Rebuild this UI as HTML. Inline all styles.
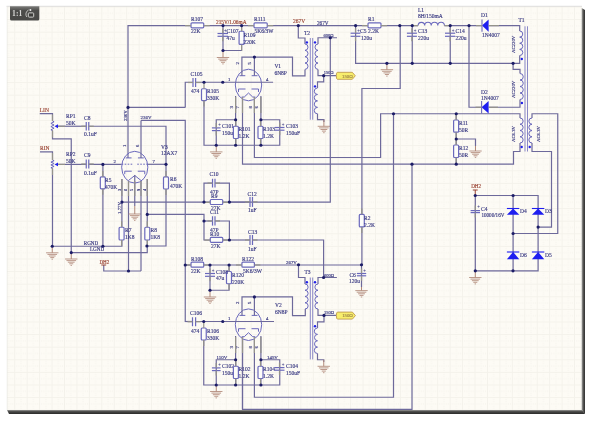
<!DOCTYPE html>
<html><head><meta charset="utf-8">
<style>
html,body{margin:0;padding:0;background:#fff;width:600px;height:426px;overflow:hidden}
svg{position:absolute;left:0;top:0;will-change:transform}
text{font-family:"Liberation Serif",serif;stroke-width:0.15}
</style></head><body>
<svg width="600" height="426" viewBox="0 0 600 426">
<defs>
<pattern id="g" x="1.82" y="6.5" width="12.44" height="12.6" patternUnits="userSpaceOnUse">
<path d="M0,0.5 H12.44 M0.5,0 V12.6" stroke="#f4f2eb" stroke-width="1" fill="none"/>
<path d="M0,6.8 H12.44 M6.72,0 V12.6" stroke="#f3f1ea" stroke-width="1" stroke-dasharray="1,1.1" fill="none"/>
</pattern>
<linearGradient id="sr" x1="0" x2="1" y1="0" y2="0"><stop offset="0" stop-color="#b0b0ae"/><stop offset="0.45" stop-color="#5a5a58"/><stop offset="1" stop-color="#2e2e2e"/></linearGradient>
<linearGradient id="sb" x1="0" x2="0" y1="0" y2="1"><stop offset="0" stop-color="#9a9a98"/><stop offset="0.4" stop-color="#4a4a48"/><stop offset="1" stop-color="#2a2a2a"/></linearGradient>
<linearGradient id="bd" x1="0" x2="0" y1="0" y2="1"><stop offset="0" stop-color="#7a7a78"/><stop offset="0.22" stop-color="#5a5a58"/><stop offset="0.3" stop-color="#4c4c4a"/><stop offset="1" stop-color="#484846"/></linearGradient>
</defs>
<rect x="7" y="6" width="575" height="404" fill="#fdfbf5"/>
<rect x="7" y="6" width="575" height="404" fill="url(#g)"/>
<line x1="6.5" y1="6.3" x2="582" y2="6.3" stroke="#d8d8d8" stroke-width="0.8"/>
<line x1="7.2" y1="6" x2="7.2" y2="410" stroke="#e4e4e0" stroke-width="0.6"/>
<path d="M581.6,8 L585,10 L585,414 L581.6,410 Z" fill="url(#sr)"/>
<path d="M7,410 L582,410 L585,414 L9,414 Z" fill="url(#sb)"/>
<polyline points="128,157.9 128,25.6 191,25.6" fill="none" stroke="#6d699b" stroke-width="1.2"/>
<rect x="191" y="22.8" width="12.75" height="5" rx="1" fill="#fdfdfa" stroke="#6a68bc" stroke-width="1.2"/>
<polyline points="203.75,25.6 254,25.6" fill="none" stroke="#6d699b" stroke-width="1.2"/>
<rect x="254" y="22.8" width="13.25" height="5" rx="1" fill="#fdfdfa" stroke="#6a68bc" stroke-width="1.2"/>
<polyline points="267.25,25.6 368,25.6" fill="none" stroke="#6d699b" stroke-width="1.2"/>
<rect x="368" y="22.8" width="13" height="5" rx="1" fill="#fdfdfa" stroke="#6a68bc" stroke-width="1.2"/>
<polyline points="381,25.6 418.1,25.6" fill="none" stroke="#6d699b" stroke-width="1.2"/>
<path d="M418.1,25.6 A3.28,3.28 0 0 1 424.66,25.6 A3.28,3.28 0 0 1 431.22,25.6 A3.28,3.28 0 0 1 437.78,25.6 A3.28,3.28 0 0 1 444.4,25.6" fill="none" stroke="#6a68bc" stroke-width="1.1"/>
<polyline points="444.4,25.6 482,25.6" fill="none" stroke="#6d699b" stroke-width="1.2"/>
<polygon points="482,25.6 488.6,19.4 488.6,31.8" fill="#1e1ef0"/>
<line x1="482" y1="19.4" x2="482" y2="31.8" stroke="#6a68bc" stroke-width="1.1"/>
<polyline points="488.6,25.6 519.7,25.6 519.7,31" fill="none" stroke="#6d699b" stroke-width="1.2"/>
<text x="191" y="20.6" font-size="5.51" fill="#393982" stroke="#393982" text-anchor="start">R107</text>
<text x="191" y="33" font-size="5.51" fill="#393982" stroke="#393982" text-anchor="start">22K</text>
<text x="216" y="23.6" font-size="5.3" fill="#9a4434" stroke="#9a4434" text-anchor="start">215V/1.06mA</text>
<text x="254" y="20.6" font-size="5.51" fill="#393982" stroke="#393982" text-anchor="start">R111</text>
<text x="254.5" y="33" font-size="5.51" fill="#393982" stroke="#393982" text-anchor="start">5K6/3W</text>
<text x="293" y="23.4" font-size="5.51" fill="#9a4434" stroke="#9a4434" text-anchor="start">267V</text>
<text x="317" y="24.5" font-size="5.19" fill="#393982" stroke="#393982" text-anchor="start">267V</text>
<text x="368" y="21" font-size="5.51" fill="#393982" stroke="#393982" text-anchor="start">R1</text>
<text x="368" y="33" font-size="5.51" fill="#393982" stroke="#393982" text-anchor="start">2.2K</text>
<text x="418" y="12" font-size="5.51" fill="#393982" stroke="#393982" text-anchor="start">L1</text>
<text x="418" y="17.6" font-size="5.51" fill="#393982" stroke="#393982" text-anchor="start">8H/150mA</text>
<text x="481" y="17" font-size="5.51" fill="#393982" stroke="#393982" text-anchor="start">D1</text>
<text x="482" y="37" font-size="5.51" fill="#393982" stroke="#393982" text-anchor="start">1N4007</text>
<text x="518.5" y="22" font-size="5.51" fill="#393982" stroke="#393982" text-anchor="start">T1</text>
<polyline points="223,25.6 223,50.5" fill="none" stroke="#6d699b" stroke-width="1.2"/>
<line x1="217.5" y1="33.5" x2="228" y2="33.5" stroke="#6a68bc" stroke-width="1.2"/>
<line x1="217.5" y1="36.3" x2="228" y2="36.3" stroke="#6a68bc" stroke-width="1.2"/>
<text x="225.3" y="31.5" font-size="4.77" fill="#393982" stroke="#393982" text-anchor="middle">+</text>
<text x="226.5" y="33" font-size="5.51" fill="#393982" stroke="#393982" text-anchor="start">C107</text>
<text x="226.5" y="40" font-size="5.51" fill="#393982" stroke="#393982" text-anchor="start">47u</text>
<polyline points="241.6,25.6 241.6,50.5 223,50.5" fill="none" stroke="#6d699b" stroke-width="1.2"/>
<rect x="239.1" y="31.25" width="5" height="13.15" rx="1" fill="#fdfdfa" stroke="#6a68bc" stroke-width="1.2"/>
<text x="243.5" y="37" font-size="5.51" fill="#393982" stroke="#393982" text-anchor="start">R109</text>
<text x="243.5" y="44" font-size="5.51" fill="#393982" stroke="#393982" text-anchor="start">220K</text>
<polyline points="223,50.5 223,57.5" fill="none" stroke="#b08878" stroke-width="1"/>
<line x1="216.8" y1="57.5" x2="229.2" y2="57.5" stroke="#b08878" stroke-width="0.85"/>
<line x1="218.2" y1="59.1" x2="227.8" y2="59.1" stroke="#b08878" stroke-width="0.85"/>
<line x1="219.6" y1="60.7" x2="226.4" y2="60.7" stroke="#b08878" stroke-width="0.85"/>
<line x1="221" y1="62.3" x2="225" y2="62.3" stroke="#b08878" stroke-width="0.85"/>
<line x1="222.3" y1="63.9" x2="223.7" y2="63.9" stroke="#b08878" stroke-width="0.85"/>
<ellipse cx="248.5" cy="85" rx="13.2" ry="15.8" fill="none" stroke="#6a68bc" stroke-width="1"/>
<line x1="245.3" y1="75.7" x2="239.5" y2="75.7" stroke="#6a68bc" stroke-width="1"/>
<line x1="251.7" y1="75.7" x2="257.5" y2="75.7" stroke="#6a68bc" stroke-width="1"/>
<polyline points="238.5,92 238.5,89 245.5,89" fill="none" stroke="#6a68bc" stroke-width="1"/>
<polyline points="258.5,92 258.5,89 251.5,89" fill="none" stroke="#6a68bc" stroke-width="1"/>
<polyline points="241.7,97 244.3,97 248.5,93 252.7,97 255.3,97" fill="none" stroke="#6a68bc" stroke-width="1"/>
<polyline points="241.9,75.7 241.9,57.1 292.5,57.1 292.5,75.9 305,75.9 305,69.4" fill="none" stroke="#6d699b" stroke-width="1.2"/>
<polyline points="254.4,57.1 254.4,75.7" fill="none" stroke="#6d699b" stroke-width="1.2"/>
<text x="238.5" y="64.5" font-size="4.77" fill="#393982" stroke="#393982" text-anchor="start" transform="rotate(-90 238.5 64.5)">2</text>
<text x="251" y="64.5" font-size="4.77" fill="#393982" stroke="#393982" text-anchor="start" transform="rotate(-90 251 64.5)">5</text>
<text x="274.4" y="68" font-size="5.51" fill="#393982" stroke="#393982" text-anchor="start">V1</text>
<text x="274.4" y="75" font-size="5.51" fill="#393982" stroke="#393982" text-anchor="start">6N8P</text>
<polyline points="185.25,107.5 185.25,82.25 193,82.25" fill="none" stroke="#6d699b" stroke-width="1.2"/>
<line x1="193" y1="78" x2="193" y2="87" stroke="#6a68bc" stroke-width="1.2"/>
<line x1="195.6" y1="78" x2="195.6" y2="87" stroke="#6a68bc" stroke-width="1.2"/>
<polyline points="195.6,82.25 273.1,82.25" fill="none" stroke="#6d699b" stroke-width="1.2"/>
<text x="190.6" y="75.6" font-size="5.51" fill="#393982" stroke="#393982" text-anchor="start">C105</text>
<text x="191" y="93" font-size="5.51" fill="#393982" stroke="#393982" text-anchor="start">474</text>
<text x="228" y="81" font-size="4.77" fill="#393982" stroke="#393982" text-anchor="start">1</text>
<text x="266" y="80.6" font-size="4.77" fill="#393982" stroke="#393982" text-anchor="start">4</text>
<rect x="201.5" y="88.75" width="5" height="11.85" rx="1" fill="#fdfdfa" stroke="#6a68bc" stroke-width="1.2"/>
<text x="207" y="93" font-size="5.51" fill="#393982" stroke="#393982" text-anchor="start">R105</text>
<text x="207" y="100" font-size="5.51" fill="#393982" stroke="#393982" text-anchor="start">330K</text>
<polyline points="204,100.6 204,145.25 279.75,145.25 279.75,119.75 260.9,119.75" fill="none" stroke="#6d699b" stroke-width="1.2"/>
<polyline points="235.6,96 235.6,145.25" fill="none" stroke="#6d699b" stroke-width="1.2"/>
<polyline points="260.9,96 260.9,145.25" fill="none" stroke="#6d699b" stroke-width="1.2"/>
<polyline points="242.5,97 242.5,164.2 513.5,164.2 513.5,151.5 520,151.5 520,147" fill="none" stroke="#6d699b" stroke-width="1.2"/>
<polyline points="254.4,97 254.4,157.5 380.6,157.5 380.6,113.75 520,113.75 520,118" fill="none" stroke="#6d699b" stroke-width="1.2"/>
<text x="233" y="108.5" font-size="4.77" fill="#393982" stroke="#393982" text-anchor="start" transform="rotate(-90 233 108.5)">3</text>
<text x="239" y="108.5" font-size="4.77" fill="#393982" stroke="#393982" text-anchor="start" transform="rotate(-90 239 108.5)">7</text>
<text x="252" y="108.5" font-size="4.77" fill="#393982" stroke="#393982" text-anchor="start" transform="rotate(-90 252 108.5)">8</text>
<text x="258" y="108.5" font-size="4.77" fill="#393982" stroke="#393982" text-anchor="start" transform="rotate(-90 258 108.5)">6</text>
<polyline points="235.6,119.75 216.25,119.75 216.25,145.25" fill="none" stroke="#6d699b" stroke-width="1.2"/>
<line x1="211.9" y1="127.9" x2="220.6" y2="127.9" stroke="#6a68bc" stroke-width="1.2"/>
<line x1="211.9" y1="130.6" x2="220.6" y2="130.6" stroke="#6a68bc" stroke-width="1.2"/>
<text x="219.5" y="126" font-size="4.77" fill="#393982" stroke="#393982" text-anchor="middle">+</text>
<text x="222" y="128" font-size="5.51" fill="#393982" stroke="#393982" text-anchor="start">C101</text>
<text x="222" y="134.5" font-size="5.51" fill="#393982" stroke="#393982" text-anchor="start">150uF</text>
<rect x="233.4" y="126.25" width="5" height="12.25" rx="1" fill="#fdfdfa" stroke="#6a68bc" stroke-width="1.2"/>
<text x="238.5" y="131" font-size="5.51" fill="#393982" stroke="#393982" text-anchor="start">R101</text>
<text x="238.5" y="137.5" font-size="5.51" fill="#393982" stroke="#393982" text-anchor="start">1.2K</text>
<rect x="258" y="126.25" width="5" height="12.25" rx="1" fill="#fdfdfa" stroke="#6a68bc" stroke-width="1.2"/>
<text x="263" y="131" font-size="5.51" fill="#393982" stroke="#393982" text-anchor="start">R103</text>
<text x="263" y="137.5" font-size="5.51" fill="#393982" stroke="#393982" text-anchor="start">1.2K</text>
<line x1="275" y1="127.5" x2="284.5" y2="127.5" stroke="#6a68bc" stroke-width="1.2"/>
<line x1="275" y1="130.2" x2="284.5" y2="130.2" stroke="#6a68bc" stroke-width="1.2"/>
<text x="283" y="125.5" font-size="4.77" fill="#393982" stroke="#393982" text-anchor="middle">+</text>
<text x="286" y="128" font-size="5.51" fill="#393982" stroke="#393982" text-anchor="start">C103</text>
<text x="286" y="134.5" font-size="5.51" fill="#393982" stroke="#393982" text-anchor="start">150uF</text>
<polyline points="216.25,145.25 216.25,151.9" fill="none" stroke="#b08878" stroke-width="1"/>
<line x1="210.05" y1="151.9" x2="222.45" y2="151.9" stroke="#b08878" stroke-width="0.85"/>
<line x1="211.45" y1="153.5" x2="221.05" y2="153.5" stroke="#b08878" stroke-width="0.85"/>
<line x1="212.85" y1="155.1" x2="219.65" y2="155.1" stroke="#b08878" stroke-width="0.85"/>
<line x1="214.25" y1="156.7" x2="218.25" y2="156.7" stroke="#b08878" stroke-width="0.85"/>
<line x1="215.55" y1="158.3" x2="216.95" y2="158.3" stroke="#b08878" stroke-width="0.85"/>
<polyline points="298.3,25.6 298.3,38 305,38 305,44" fill="none" stroke="#6d699b" stroke-width="1.2"/>
<path d="M305,44 A3.18,3.18 0 0 1 305,50.35 A3.18,3.18 0 0 1 305,56.7 A3.18,3.18 0 0 1 305,63.05 A3.18,3.18 0 0 1 305,69.4" fill="none" stroke="#6a68bc" stroke-width="1"/>
<line x1="310.3" y1="38" x2="310.3" y2="119.7" stroke="#8482c4" stroke-width="0.95"/>
<line x1="312.7" y1="38" x2="312.7" y2="119.7" stroke="#8482c4" stroke-width="0.95"/>
<polyline points="337,37.75 318,37.75 318,44" fill="none" stroke="#6d699b" stroke-width="1.2"/>
<path d="M318,44 A3.18,3.18 0 0 0 318,50.35 A3.18,3.18 0 0 0 318,56.7 A3.18,3.18 0 0 0 318,63.05 A3.18,3.18 0 0 0 318,69.4" fill="none" stroke="#6a68bc" stroke-width="1"/>
<polyline points="318,69.4 318,75.7 336.3,75.7" fill="none" stroke="#6d699b" stroke-width="1.2"/>
<polyline points="323.7,75.7 323.7,81.9 317.5,81.9 317.5,88" fill="none" stroke="#6d699b" stroke-width="1.2"/>
<path d="M317.5,88 A3.22,3.22 0 0 0 317.5,94.45 A3.22,3.22 0 0 0 317.5,100.9 A3.22,3.22 0 0 0 317.5,107.35 A3.22,3.22 0 0 0 317.5,113.8" fill="none" stroke="#6a68bc" stroke-width="1"/>
<polyline points="317.5,113.8 317.5,119.7 323.9,119.7 323.9,122" fill="none" stroke="#6d699b" stroke-width="1.2"/>
<polyline points="323.9,119.7 323.9,126.3" fill="none" stroke="#b08878" stroke-width="1"/>
<line x1="317.7" y1="126.3" x2="330.1" y2="126.3" stroke="#b08878" stroke-width="0.85"/>
<line x1="319.1" y1="127.9" x2="328.7" y2="127.9" stroke="#b08878" stroke-width="0.85"/>
<line x1="320.5" y1="129.5" x2="327.3" y2="129.5" stroke="#b08878" stroke-width="0.85"/>
<line x1="321.9" y1="131.1" x2="325.9" y2="131.1" stroke="#b08878" stroke-width="0.85"/>
<line x1="323.2" y1="132.7" x2="324.6" y2="132.7" stroke="#b08878" stroke-width="0.85"/>
<circle cx="306.9" cy="42.4" r="1.2" fill="#2020e8"/>
<circle cx="315" cy="42.4" r="1.2" fill="#2020e8"/>
<circle cx="315" cy="86.4" r="1.2" fill="#2020e8"/>
<text x="304" y="35" font-size="5.51" fill="#393982" stroke="#393982" text-anchor="start">T2</text>
<text x="323.5" y="36.8" font-size="4.45" fill="#393982" stroke="#393982" text-anchor="start">600Ω</text>
<text x="323.7" y="74.3" font-size="4.45" fill="#393982" stroke="#393982" text-anchor="start">150Ω</text>
<path d="M337.3,72.3 L352.3,72.3 L355.3,75.8 L352.3,79.3 L337.3,79.3 Q336.3,79.3 336.3,75.8 Q336.3,72.3 337.3,72.3 Z" fill="#f8ee6c" stroke="#c09a50" stroke-width="0.9"/>
<text x="352.8" y="77.5" font-size="4.77" fill="#a08848" stroke="#a08848" text-anchor="end">150Ω</text>
<polyline points="330.3,37.75 330.3,202.1 121.9,202.1" fill="none" stroke="#6d699b" stroke-width="1.2"/>
<polyline points="355.6,25.6 355.6,63.3 513.1,63.3 519.7,63.3 519.7,58" fill="none" stroke="#6d699b" stroke-width="1.2"/>
<line x1="350.6" y1="33.2" x2="360.4" y2="33.2" stroke="#6a68bc" stroke-width="1.2"/>
<line x1="350.6" y1="36.3" x2="360.4" y2="36.3" stroke="#6a68bc" stroke-width="1.2"/>
<text x="358.6" y="31.5" font-size="4.77" fill="#393982" stroke="#393982" text-anchor="middle">+</text>
<text x="360" y="33" font-size="5.51" fill="#393982" stroke="#393982" text-anchor="start">C5</text>
<text x="361" y="40" font-size="5.51" fill="#393982" stroke="#393982" text-anchor="start">120u</text>
<polyline points="386.9,63.3 386.9,69.7" fill="none" stroke="#b08878" stroke-width="1"/>
<line x1="380.7" y1="69.7" x2="393.1" y2="69.7" stroke="#b08878" stroke-width="0.85"/>
<line x1="382.1" y1="71.3" x2="391.7" y2="71.3" stroke="#b08878" stroke-width="0.85"/>
<line x1="383.5" y1="72.9" x2="390.3" y2="72.9" stroke="#b08878" stroke-width="0.85"/>
<line x1="384.9" y1="74.5" x2="388.9" y2="74.5" stroke="#b08878" stroke-width="0.85"/>
<line x1="386.2" y1="76.1" x2="387.6" y2="76.1" stroke="#b08878" stroke-width="0.85"/>
<polyline points="412.25,25.6 412.25,63.3" fill="none" stroke="#6d699b" stroke-width="1.2"/>
<line x1="406.9" y1="33.2" x2="416.9" y2="33.2" stroke="#6a68bc" stroke-width="1.2"/>
<line x1="406.9" y1="36.3" x2="416.9" y2="36.3" stroke="#6a68bc" stroke-width="1.2"/>
<text x="415" y="31.5" font-size="4.77" fill="#393982" stroke="#393982" text-anchor="middle">+</text>
<text x="418" y="33" font-size="5.51" fill="#393982" stroke="#393982" text-anchor="start">C13</text>
<text x="418" y="40" font-size="5.51" fill="#393982" stroke="#393982" text-anchor="start">220u</text>
<polyline points="450.25,25.6 450.25,63.3" fill="none" stroke="#6d699b" stroke-width="1.2"/>
<line x1="445" y1="33.2" x2="455.2" y2="33.2" stroke="#6a68bc" stroke-width="1.2"/>
<line x1="445" y1="36.3" x2="455.2" y2="36.3" stroke="#6a68bc" stroke-width="1.2"/>
<text x="453" y="31.5" font-size="4.77" fill="#393982" stroke="#393982" text-anchor="middle">+</text>
<text x="455.5" y="33" font-size="5.51" fill="#393982" stroke="#393982" text-anchor="start">C14</text>
<text x="455.5" y="40" font-size="5.51" fill="#393982" stroke="#393982" text-anchor="start">220u</text>
<polyline points="400.2,25.6 400.2,88.5 361.9,88.5 361.9,264.75" fill="none" stroke="#6d699b" stroke-width="1.2"/>
<rect x="359.3" y="214.4" width="5" height="12.5" rx="1" fill="#fdfdfa" stroke="#6a68bc" stroke-width="1.2"/>
<text x="364" y="220" font-size="5.51" fill="#393982" stroke="#393982" text-anchor="start">R2</text>
<text x="364" y="226.5" font-size="5.51" fill="#393982" stroke="#393982" text-anchor="start">2.2K</text>
<path d="M519.7,31 A3.06,3.06 0 0 1 519.7,37.12 A3.06,3.06 0 0 1 519.7,43.25 A3.06,3.06 0 0 1 519.7,49.38 A3.06,3.06 0 0 1 519.7,55.5" fill="none" stroke="#6a68bc" stroke-width="1"/>
<polyline points="519.7,55.5 519.7,58" fill="none" stroke="#6d699b" stroke-width="1.2"/>
<circle cx="521.8" cy="59" r="1.2" fill="#2020e8"/>
<line x1="525" y1="26.3" x2="525" y2="151.5" stroke="#8482c4" stroke-width="0.95"/>
<line x1="527.5" y1="26.3" x2="527.5" y2="151.5" stroke="#8482c4" stroke-width="0.95"/>
<polyline points="513.1,63.3 513.1,69.4 520,69.4 520,73.5" fill="none" stroke="#6d699b" stroke-width="1.2"/>
<path d="M520,73.5 A3.25,3.25 0 0 1 520,80 A3.25,3.25 0 0 1 520,86.5 A3.25,3.25 0 0 1 520,93 A3.25,3.25 0 0 1 520,99.5" fill="none" stroke="#6a68bc" stroke-width="1"/>
<polyline points="520,99.5 520,107.25 488.6,107.25" fill="none" stroke="#6d699b" stroke-width="1.2"/>
<circle cx="521.9" cy="103" r="1.2" fill="#2020e8"/>
<polyline points="469,25.6 469,107.25 481.6,107.25" fill="none" stroke="#6d699b" stroke-width="1.2"/>
<polygon points="481.6,107.25 488.6,101.05 488.6,113.45" fill="#1e1ef0"/>
<line x1="481.6" y1="101.05" x2="481.6" y2="113.45" stroke="#6a68bc" stroke-width="1.1"/>
<text x="481" y="93.5" font-size="5.51" fill="#393982" stroke="#393982" text-anchor="start">D2</text>
<text x="481" y="99.5" font-size="5.51" fill="#393982" stroke="#393982" text-anchor="start">1N4007</text>
<text x="515" y="53" font-size="4.77" fill="#393982" stroke="#393982" text-anchor="start" transform="rotate(-90 515 53)">AC220V</text>
<text x="515" y="98" font-size="4.77" fill="#393982" stroke="#393982" text-anchor="start" transform="rotate(-90 515 98)">AC220V</text>
<path d="M520,118 A3.12,3.12 0 0 1 520,124.25 A3.12,3.12 0 0 1 520,130.5 A3.12,3.12 0 0 1 520,136.75 A3.12,3.12 0 0 1 520,143" fill="none" stroke="#6a68bc" stroke-width="1"/>
<polyline points="520,143 520,147" fill="none" stroke="#6d699b" stroke-width="1.2"/>
<path d="M532,118 A3.12,3.12 0 0 0 532,124.25 A3.12,3.12 0 0 0 532,130.5 A3.12,3.12 0 0 0 532,136.75 A3.12,3.12 0 0 0 532,143" fill="none" stroke="#6a68bc" stroke-width="1"/>
<polyline points="532,118 532,113.75 557.75,113.75 557.75,233.5 513.1,233.5" fill="none" stroke="#6d699b" stroke-width="1.2"/>
<polyline points="532,143 532,151.5 551.5,151.5 551.5,227.1 538.1,227.1" fill="none" stroke="#6d699b" stroke-width="1.2"/>
<circle cx="521.7" cy="147" r="1.2" fill="#2020e8"/>
<circle cx="529.7" cy="147" r="1.2" fill="#2020e8"/>
<text x="515" y="142" font-size="4.77" fill="#393982" stroke="#393982" text-anchor="start" transform="rotate(-90 515 142)">AC6.3V</text>
<text x="540" y="142" font-size="4.77" fill="#393982" stroke="#393982" text-anchor="start" transform="rotate(-90 540 142)">AC6.3V</text>
<polyline points="456.25,113.75 456.25,164.2" fill="none" stroke="#6d699b" stroke-width="1.2"/>
<rect x="453.6" y="120" width="5" height="12.2" rx="1" fill="#fdfdfa" stroke="#6a68bc" stroke-width="1.2"/>
<rect x="453.6" y="145" width="5" height="12.5" rx="1" fill="#fdfdfa" stroke="#6a68bc" stroke-width="1.2"/>
<polyline points="456.25,139 475.5,139 475.5,146" fill="none" stroke="#6d699b" stroke-width="1.2"/>
<polyline points="475.5,146 475.5,151" fill="none" stroke="#b08878" stroke-width="1"/>
<line x1="469.3" y1="151" x2="481.7" y2="151" stroke="#b08878" stroke-width="0.85"/>
<line x1="470.7" y1="152.6" x2="480.3" y2="152.6" stroke="#b08878" stroke-width="0.85"/>
<line x1="472.1" y1="154.2" x2="478.9" y2="154.2" stroke="#b08878" stroke-width="0.85"/>
<line x1="473.5" y1="155.8" x2="477.5" y2="155.8" stroke="#b08878" stroke-width="0.85"/>
<line x1="474.8" y1="157.4" x2="476.2" y2="157.4" stroke="#b08878" stroke-width="0.85"/>
<text x="459" y="125" font-size="5.51" fill="#393982" stroke="#393982" text-anchor="start">R11</text>
<text x="459" y="131.5" font-size="5.51" fill="#393982" stroke="#393982" text-anchor="start">50R</text>
<text x="459" y="150" font-size="5.51" fill="#393982" stroke="#393982" text-anchor="start">R12</text>
<text x="459" y="156.5" font-size="5.51" fill="#393982" stroke="#393982" text-anchor="start">50R</text>
<polyline points="393.5,113.75 393.5,397.25 254.4,397.25 254.4,337" fill="none" stroke="#6d699b" stroke-width="1.2"/>
<polyline points="412,164.2 412,409.3 242.5,409.3 242.5,337" fill="none" stroke="#6d699b" stroke-width="1.2"/>
<text x="39.75" y="112.3" font-size="5.51" fill="#9a4434" stroke="#9a4434" text-anchor="start">LIN</text>
<polyline points="39.75,113.6 52.5,113.6 52.5,121" fill="none" stroke="#6d699b" stroke-width="1.2"/>
<polyline points="52.5,121 54.1,121.8 50.9,123.4 54.1,125 50.9,126.6 54.1,128.2 50.9,129.8 52.5,130.6" fill="none" stroke="#6a68bc" stroke-width="1"/>
<polyline points="52.5,130.6 52.5,138.8 71.25,138.8 71.25,252.6" fill="none" stroke="#6d699b" stroke-width="1.2"/>
<polygon points="54.5,126.25 58,124.3 58,128.2" fill="#1e1ef0"/>
<polyline points="58,126.25 86.25,126.25" fill="none" stroke="#6d699b" stroke-width="1.2"/>
<line x1="86.25" y1="121.9" x2="86.25" y2="130.6" stroke="#6a68bc" stroke-width="1.2"/>
<line x1="88.75" y1="121.9" x2="88.75" y2="130.6" stroke="#6a68bc" stroke-width="1.2"/>
<polyline points="88.75,126.25 166,126.25 166,176.9" fill="none" stroke="#6d699b" stroke-width="1.2"/>
<text x="66" y="118" font-size="5.51" fill="#393982" stroke="#393982" text-anchor="start">RP1</text>
<text x="66" y="125" font-size="5.51" fill="#393982" stroke="#393982" text-anchor="start">50K</text>
<text x="84" y="119.5" font-size="5.51" fill="#393982" stroke="#393982" text-anchor="start">C8</text>
<text x="84" y="136" font-size="5.51" fill="#393982" stroke="#393982" text-anchor="start">0.1uF</text>
<text x="40" y="150.3" font-size="5.51" fill="#9a4434" stroke="#9a4434" text-anchor="start">RIN</text>
<polyline points="40,151.9 52.5,151.9 52.5,160" fill="none" stroke="#6d699b" stroke-width="1.2"/>
<polyline points="52.5,160 54.1,160.71 50.9,162.12 54.1,163.54 50.9,164.96 54.1,166.38 50.9,167.79 52.5,168.5" fill="none" stroke="#6a68bc" stroke-width="1"/>
<polyline points="52.5,168.5 52.5,246.25 121.9,246.25 121.9,240" fill="none" stroke="#6d699b" stroke-width="1.2"/>
<polygon points="54.5,164.4 58,162.5 58,166.3" fill="#1e1ef0"/>
<polyline points="58,164.4 86.25,164.4" fill="none" stroke="#6d699b" stroke-width="1.2"/>
<line x1="86.25" y1="159.5" x2="86.25" y2="168.5" stroke="#6a68bc" stroke-width="1.2"/>
<line x1="88.75" y1="159.5" x2="88.75" y2="168.5" stroke="#6a68bc" stroke-width="1.2"/>
<polyline points="88.75,164.4 121.6,164.4" fill="none" stroke="#6d699b" stroke-width="1.2"/>
<text x="66" y="156" font-size="5.51" fill="#393982" stroke="#393982" text-anchor="start">RP2</text>
<text x="66" y="162.5" font-size="5.51" fill="#393982" stroke="#393982" text-anchor="start">50K</text>
<text x="84" y="157" font-size="5.51" fill="#393982" stroke="#393982" text-anchor="start">C9</text>
<text x="84" y="174.5" font-size="5.51" fill="#393982" stroke="#393982" text-anchor="start">0.1uF</text>
<polyline points="102.9,164.4 102.9,246.25" fill="none" stroke="#6d699b" stroke-width="1.2"/>
<rect x="100.3" y="176.9" width="5" height="11.9" rx="1" fill="#fdfdfa" stroke="#6a68bc" stroke-width="1.2"/>
<text x="105" y="182" font-size="5.51" fill="#393982" stroke="#393982" text-anchor="start">R5</text>
<text x="105" y="189" font-size="5.51" fill="#393982" stroke="#393982" text-anchor="start">470K</text>
<polyline points="52.25,246.25 52.25,252.8" fill="none" stroke="#b08878" stroke-width="1"/>
<line x1="46.05" y1="252.8" x2="58.45" y2="252.8" stroke="#b08878" stroke-width="0.85"/>
<line x1="47.45" y1="254.4" x2="57.05" y2="254.4" stroke="#b08878" stroke-width="0.85"/>
<line x1="48.85" y1="256" x2="55.65" y2="256" stroke="#b08878" stroke-width="0.85"/>
<line x1="50.25" y1="257.6" x2="54.25" y2="257.6" stroke="#b08878" stroke-width="0.85"/>
<line x1="51.55" y1="259.2" x2="52.95" y2="259.2" stroke="#b08878" stroke-width="0.85"/>
<polyline points="71.25,252.6 71.25,259" fill="none" stroke="#b08878" stroke-width="1"/>
<line x1="65.05" y1="259" x2="77.45" y2="259" stroke="#b08878" stroke-width="0.85"/>
<line x1="66.45" y1="260.6" x2="76.05" y2="260.6" stroke="#b08878" stroke-width="0.85"/>
<line x1="67.85" y1="262.2" x2="74.65" y2="262.2" stroke="#b08878" stroke-width="0.85"/>
<line x1="69.25" y1="263.8" x2="73.25" y2="263.8" stroke="#b08878" stroke-width="0.85"/>
<line x1="70.55" y1="265.4" x2="71.95" y2="265.4" stroke="#b08878" stroke-width="0.85"/>
<text x="83.75" y="244.8" font-size="5.09" fill="#393982" stroke="#393982" text-anchor="start">RGND</text>
<text x="90" y="251" font-size="5.09" fill="#393982" stroke="#393982" text-anchor="start">LGND</text>
<ellipse cx="134.75" cy="167.2" rx="13.1" ry="15.9" fill="none" stroke="#6a68bc" stroke-width="1"/>
<line x1="131.55" y1="157.9" x2="125.75" y2="157.9" stroke="#6a68bc" stroke-width="1"/>
<line x1="137.95" y1="157.9" x2="143.75" y2="157.9" stroke="#6a68bc" stroke-width="1"/>
<polyline points="124.75,174.2 124.75,171.2 131.75,171.2" fill="none" stroke="#6a68bc" stroke-width="1"/>
<polyline points="144.75,174.2 144.75,171.2 137.75,171.2" fill="none" stroke="#6a68bc" stroke-width="1"/>
<polyline points="128.45,180.5 134.75,175.5 141.05,180.5" fill="none" stroke="#6a68bc" stroke-width="1"/>
<line x1="121.65" y1="164.2" x2="132.25" y2="164.2" stroke="#6a68bc" stroke-width="1" stroke-dasharray="1.6,1.4"/>
<line x1="137.25" y1="164.2" x2="147.85" y2="164.2" stroke="#6a68bc" stroke-width="1" stroke-dasharray="1.6,1.4"/>
<polyline points="141,120.4 185.25,120.4 185.25,321.5 192.5,321.5" fill="none" stroke="#6d699b" stroke-width="1.2"/>
<polyline points="141,120.4 141,157.9" fill="none" stroke="#6d699b" stroke-width="1.2"/>
<text x="126" y="147" font-size="4.77" fill="#393982" stroke="#393982" text-anchor="start" transform="rotate(-90 126 147)">1</text>
<text x="139" y="147" font-size="4.77" fill="#393982" stroke="#393982" text-anchor="start" transform="rotate(-90 139 147)">6</text>
<text x="161" y="148.8" font-size="5.51" fill="#393982" stroke="#393982" text-anchor="start">V3</text>
<text x="161" y="155" font-size="5.51" fill="#393982" stroke="#393982" text-anchor="start">12AX7</text>
<text x="113.5" y="163" font-size="4.77" fill="#393982" stroke="#393982" text-anchor="start">2</text>
<text x="152.5" y="163" font-size="4.77" fill="#393982" stroke="#393982" text-anchor="start">7</text>
<polyline points="147.9,164.3 166,164.3" fill="none" stroke="#6d699b" stroke-width="1.2"/>
<rect x="163.5" y="176.9" width="5" height="12.1" rx="1" fill="#fdfdfa" stroke="#6a68bc" stroke-width="1.2"/>
<text x="170" y="181" font-size="5.51" fill="#393982" stroke="#393982" text-anchor="start">R6</text>
<text x="170" y="188" font-size="5.51" fill="#393982" stroke="#393982" text-anchor="start">470K</text>
<polyline points="166,189 166,246 146.9,246" fill="none" stroke="#6d699b" stroke-width="1.2"/>
<text x="126.5" y="121" font-size="4.88" fill="#393982" stroke="#393982" text-anchor="start" transform="rotate(-90 126.5 121)">236V</text>
<text x="140.6" y="118.6" font-size="4.88" fill="#393982" stroke="#393982" text-anchor="start">236V</text>
<polyline points="128,107.4 185.25,107.4" fill="none" stroke="#6d699b" stroke-width="1.2"/>
<polyline points="121.9,179 121.9,227.25" fill="none" stroke="#6d699b" stroke-width="1.2"/>
<rect x="119.1" y="227.25" width="5" height="12.75" rx="1" fill="#fdfdfa" stroke="#6a68bc" stroke-width="1.2"/>
<polyline points="128.5,181 128.5,271" fill="none" stroke="#6d699b" stroke-width="1.2"/>
<polyline points="134.75,175 134.75,206" fill="none" stroke="#6d699b" stroke-width="1.2"/>
<polyline points="134.75,206 134.75,214" fill="none" stroke="#b08878" stroke-width="1"/>
<line x1="128.55" y1="214" x2="140.95" y2="214" stroke="#b08878" stroke-width="0.85"/>
<line x1="129.95" y1="215.6" x2="139.55" y2="215.6" stroke="#b08878" stroke-width="0.85"/>
<line x1="131.35" y1="217.2" x2="138.15" y2="217.2" stroke="#b08878" stroke-width="0.85"/>
<line x1="132.75" y1="218.8" x2="136.75" y2="218.8" stroke="#b08878" stroke-width="0.85"/>
<line x1="134.05" y1="220.4" x2="135.45" y2="220.4" stroke="#b08878" stroke-width="0.85"/>
<polyline points="141,181 141,271" fill="none" stroke="#6d699b" stroke-width="1.2"/>
<polyline points="147.25,179 147.25,227.25" fill="none" stroke="#6d699b" stroke-width="1.2"/>
<rect x="144.8" y="227.25" width="5" height="12.75" rx="1" fill="#fdfdfa" stroke="#6a68bc" stroke-width="1.2"/>
<polyline points="147.25,240 147.25,252.7 71.25,252.7" fill="none" stroke="#6d699b" stroke-width="1.2"/>
<text x="121" y="214" font-size="4.88" fill="#393982" stroke="#393982" text-anchor="start" transform="rotate(-90 121 214)">1.77V</text>
<text x="120.6" y="191" font-size="4.24" fill="#393982" stroke="#393982" text-anchor="start" transform="rotate(-90 120.6 191)">3</text>
<text x="126.9" y="191" font-size="4.24" fill="#393982" stroke="#393982" text-anchor="start" transform="rotate(-90 126.9 191)">8</text>
<text x="133.2" y="191" font-size="4.24" fill="#393982" stroke="#393982" text-anchor="start" transform="rotate(-90 133.2 191)">5</text>
<text x="139.5" y="191" font-size="4.24" fill="#393982" stroke="#393982" text-anchor="start" transform="rotate(-90 139.5 191)">9</text>
<text x="145.8" y="191" font-size="4.24" fill="#393982" stroke="#393982" text-anchor="start" transform="rotate(-90 145.8 191)">4</text>
<text x="125" y="232" font-size="5.51" fill="#393982" stroke="#393982" text-anchor="start">R7</text>
<text x="125" y="239" font-size="5.51" fill="#393982" stroke="#393982" text-anchor="start">1K8</text>
<text x="150.5" y="232" font-size="5.51" fill="#393982" stroke="#393982" text-anchor="start">R8</text>
<text x="150.5" y="239" font-size="5.51" fill="#393982" stroke="#393982" text-anchor="start">1K8</text>
<polyline points="103.75,265 103.75,271 141,271" fill="none" stroke="#6d699b" stroke-width="1.2"/>
<polyline points="101.3,265 106.2,265" fill="none" stroke="#9a4434" stroke-width="1"/>
<text x="99.4" y="263.6" font-size="5.09" fill="#9a4434" stroke="#9a4434" text-anchor="start">DH2</text>
<polyline points="229.4,202.1 250,202.1" fill="none" stroke="#6d699b" stroke-width="1.2"/>
<rect x="210.25" y="199.5" width="12.5" height="5" rx="1" fill="#fdfdfa" stroke="#6a68bc" stroke-width="1.2"/>
<polyline points="204,202.1 204,183.1 212.5,183.1" fill="none" stroke="#6d699b" stroke-width="1.2"/>
<line x1="212.5" y1="178.75" x2="212.5" y2="187.5" stroke="#6a68bc" stroke-width="1.2"/>
<line x1="215" y1="178.75" x2="215" y2="187.5" stroke="#6a68bc" stroke-width="1.2"/>
<polyline points="215,183.1 229.4,183.1 229.4,202.1" fill="none" stroke="#6d699b" stroke-width="1.2"/>
<line x1="250" y1="196.9" x2="250" y2="206.9" stroke="#6a68bc" stroke-width="1.2"/>
<line x1="252.5" y1="196.9" x2="252.5" y2="206.9" stroke="#6a68bc" stroke-width="1.2"/>
<text x="209.4" y="175.6" font-size="5.51" fill="#393982" stroke="#393982" text-anchor="start">C10</text>
<text x="210" y="194" font-size="5.51" fill="#393982" stroke="#393982" text-anchor="start">47P</text>
<text x="211" y="198.3" font-size="5.51" fill="#393982" stroke="#393982" text-anchor="start">R9</text>
<text x="211" y="210" font-size="5.51" fill="#393982" stroke="#393982" text-anchor="start">27K</text>
<text x="247.5" y="195.6" font-size="5.51" fill="#393982" stroke="#393982" text-anchor="start">C12</text>
<text x="248" y="212" font-size="5.51" fill="#393982" stroke="#393982" text-anchor="start">1uF</text>
<polyline points="147.25,214.4 204,214.4 204,240 210.25,240" fill="none" stroke="#6d699b" stroke-width="1.2"/>
<polyline points="204,221 212.5,221" fill="none" stroke="#6d699b" stroke-width="1.2"/>
<line x1="212.5" y1="216.25" x2="212.5" y2="225.6" stroke="#6a68bc" stroke-width="1.2"/>
<line x1="215" y1="216.25" x2="215" y2="225.6" stroke="#6a68bc" stroke-width="1.2"/>
<polyline points="215,221 229.4,221 229.4,240" fill="none" stroke="#6d699b" stroke-width="1.2"/>
<rect x="210.25" y="237.3" width="12.5" height="5" rx="1" fill="#fdfdfa" stroke="#6a68bc" stroke-width="1.2"/>
<polyline points="222.75,240 250,240" fill="none" stroke="#6d699b" stroke-width="1.2"/>
<line x1="250" y1="235" x2="250" y2="245" stroke="#6a68bc" stroke-width="1.2"/>
<line x1="252.5" y1="235" x2="252.5" y2="245" stroke="#6a68bc" stroke-width="1.2"/>
<polyline points="252.5,240 323.6,240 323.6,277.5" fill="none" stroke="#6d699b" stroke-width="1.2"/>
<text x="210" y="214" font-size="5.51" fill="#393982" stroke="#393982" text-anchor="start">C11</text>
<text x="210" y="232" font-size="5.51" fill="#393982" stroke="#393982" text-anchor="start">47P</text>
<text x="210" y="236" font-size="5.51" fill="#393982" stroke="#393982" text-anchor="start">R10</text>
<text x="211" y="248" font-size="5.51" fill="#393982" stroke="#393982" text-anchor="start">27K</text>
<text x="248" y="233.5" font-size="5.51" fill="#393982" stroke="#393982" text-anchor="start">C13</text>
<text x="248" y="251" font-size="5.51" fill="#393982" stroke="#393982" text-anchor="start">1uF</text>
<polyline points="185.25,265 191,265" fill="none" stroke="#6d699b" stroke-width="1.2"/>
<rect x="191" y="262.2" width="12.75" height="5" rx="1" fill="#fdfdfa" stroke="#6a68bc" stroke-width="1.2"/>
<polyline points="203.75,265 241.9,265" fill="none" stroke="#6d699b" stroke-width="1.2"/>
<rect x="241.9" y="262.2" width="12.5" height="5" rx="1" fill="#fdfdfa" stroke="#6a68bc" stroke-width="1.2"/>
<polyline points="254.4,265 361.5,265 361.5,287" fill="none" stroke="#6d699b" stroke-width="1.2"/>
<text x="191" y="260.5" font-size="5.51" fill="#393982" stroke="#393982" text-anchor="start">R108</text>
<text x="191" y="272.5" font-size="5.51" fill="#393982" stroke="#393982" text-anchor="start">22K</text>
<text x="242" y="260.5" font-size="5.51" fill="#393982" stroke="#393982" text-anchor="start">R122</text>
<text x="243" y="272.5" font-size="5.51" fill="#393982" stroke="#393982" text-anchor="start">5K6/3W</text>
<text x="286" y="264" font-size="4.88" fill="#393982" stroke="#393982" text-anchor="start">267V</text>
<polyline points="210,265 210,290.25 229.1,290.25 229.1,265" fill="none" stroke="#6d699b" stroke-width="1.2"/>
<line x1="205" y1="273.5" x2="215" y2="273.5" stroke="#6a68bc" stroke-width="1.2"/>
<line x1="205" y1="276.3" x2="215" y2="276.3" stroke="#6a68bc" stroke-width="1.2"/>
<text x="213" y="271.5" font-size="4.77" fill="#393982" stroke="#393982" text-anchor="middle">+</text>
<rect x="226.5" y="271.5" width="5" height="12.25" rx="1" fill="#fdfdfa" stroke="#6a68bc" stroke-width="1.2"/>
<text x="216" y="273.5" font-size="5.51" fill="#393982" stroke="#393982" text-anchor="start">C108</text>
<text x="216" y="280" font-size="5.51" fill="#393982" stroke="#393982" text-anchor="start">47u</text>
<text x="232" y="276.5" font-size="5.51" fill="#393982" stroke="#393982" text-anchor="start">R120</text>
<text x="232" y="283.5" font-size="5.51" fill="#393982" stroke="#393982" text-anchor="start">220K</text>
<polyline points="210,290.25 210,297" fill="none" stroke="#b08878" stroke-width="1"/>
<line x1="203.8" y1="297" x2="216.2" y2="297" stroke="#b08878" stroke-width="0.85"/>
<line x1="205.2" y1="298.6" x2="214.8" y2="298.6" stroke="#b08878" stroke-width="0.85"/>
<line x1="206.6" y1="300.2" x2="213.4" y2="300.2" stroke="#b08878" stroke-width="0.85"/>
<line x1="208" y1="301.8" x2="212" y2="301.8" stroke="#b08878" stroke-width="0.85"/>
<line x1="209.3" y1="303.4" x2="210.7" y2="303.4" stroke="#b08878" stroke-width="0.85"/>
<line x1="356.9" y1="273.5" x2="366.2" y2="273.5" stroke="#6a68bc" stroke-width="1.2"/>
<line x1="356.9" y1="275.8" x2="366.2" y2="275.8" stroke="#6a68bc" stroke-width="1.2"/>
<text x="364.5" y="271.5" font-size="4.77" fill="#393982" stroke="#393982" text-anchor="middle">+</text>
<text x="349.4" y="277" font-size="5.51" fill="#393982" stroke="#393982" text-anchor="start">C6</text>
<text x="349" y="283" font-size="5.51" fill="#393982" stroke="#393982" text-anchor="start">120u</text>
<polyline points="361.5,287 361.5,290.6" fill="none" stroke="#b08878" stroke-width="1"/>
<line x1="355.3" y1="290.6" x2="367.7" y2="290.6" stroke="#b08878" stroke-width="0.85"/>
<line x1="356.7" y1="292.2" x2="366.3" y2="292.2" stroke="#b08878" stroke-width="0.85"/>
<line x1="358.1" y1="293.8" x2="364.9" y2="293.8" stroke="#b08878" stroke-width="0.85"/>
<line x1="359.5" y1="295.4" x2="363.5" y2="295.4" stroke="#b08878" stroke-width="0.85"/>
<line x1="360.8" y1="297" x2="362.2" y2="297" stroke="#b08878" stroke-width="0.85"/>
<ellipse cx="248.5" cy="324.7" rx="13.2" ry="15.8" fill="none" stroke="#6a68bc" stroke-width="1"/>
<line x1="245.3" y1="315.4" x2="239.5" y2="315.4" stroke="#6a68bc" stroke-width="1"/>
<line x1="251.7" y1="315.4" x2="257.5" y2="315.4" stroke="#6a68bc" stroke-width="1"/>
<polyline points="238.5,331.7 238.5,328.7 245.5,328.7" fill="none" stroke="#6a68bc" stroke-width="1"/>
<polyline points="258.5,331.7 258.5,328.7 251.5,328.7" fill="none" stroke="#6a68bc" stroke-width="1"/>
<polyline points="241.7,336.7 244.3,336.7 248.5,332.7 252.7,336.7 255.3,336.7" fill="none" stroke="#6a68bc" stroke-width="1"/>
<polyline points="242,315.4 242,296.9 292.5,296.9 292.5,315.7 305.3,315.7 305.3,309" fill="none" stroke="#6d699b" stroke-width="1.2"/>
<polyline points="254.4,296.9 254.4,315.4" fill="none" stroke="#6d699b" stroke-width="1.2"/>
<text x="238.5" y="304" font-size="4.77" fill="#393982" stroke="#393982" text-anchor="start" transform="rotate(-90 238.5 304)">2</text>
<text x="251" y="304" font-size="4.77" fill="#393982" stroke="#393982" text-anchor="start" transform="rotate(-90 251 304)">5</text>
<text x="275" y="307" font-size="5.51" fill="#393982" stroke="#393982" text-anchor="start">V2</text>
<text x="275" y="313.5" font-size="5.51" fill="#393982" stroke="#393982" text-anchor="start">6N8P</text>
<polyline points="185.25,321.5 192.5,321.5" fill="none" stroke="#6d699b" stroke-width="1.2"/>
<line x1="192.5" y1="317.25" x2="192.5" y2="326.25" stroke="#6a68bc" stroke-width="1.2"/>
<line x1="195.6" y1="317.25" x2="195.6" y2="326.25" stroke="#6a68bc" stroke-width="1.2"/>
<polyline points="195.6,321.5 274,321.5" fill="none" stroke="#6d699b" stroke-width="1.2"/>
<text x="190" y="315" font-size="5.51" fill="#393982" stroke="#393982" text-anchor="start">C106</text>
<text x="191" y="332.5" font-size="5.51" fill="#393982" stroke="#393982" text-anchor="start">474</text>
<text x="228" y="320" font-size="4.77" fill="#393982" stroke="#393982" text-anchor="start">1</text>
<text x="266" y="320" font-size="4.77" fill="#393982" stroke="#393982" text-anchor="start">4</text>
<rect x="201.25" y="328" width="5" height="12" rx="1" fill="#fdfdfa" stroke="#6a68bc" stroke-width="1.2"/>
<text x="207" y="333" font-size="5.51" fill="#393982" stroke="#393982" text-anchor="start">R106</text>
<text x="207" y="339.5" font-size="5.51" fill="#393982" stroke="#393982" text-anchor="start">330K</text>
<polyline points="203.75,340 203.75,385 279.75,385 279.75,359.75 260.9,359.75" fill="none" stroke="#6d699b" stroke-width="1.2"/>
<polyline points="235.6,336 235.6,385" fill="none" stroke="#6d699b" stroke-width="1.2"/>
<polyline points="260.9,336 260.9,385" fill="none" stroke="#6d699b" stroke-width="1.2"/>
<text x="233" y="348.5" font-size="4.77" fill="#393982" stroke="#393982" text-anchor="start" transform="rotate(-90 233 348.5)">3</text>
<text x="239" y="348.5" font-size="4.77" fill="#393982" stroke="#393982" text-anchor="start" transform="rotate(-90 239 348.5)">7</text>
<text x="252" y="348.5" font-size="4.77" fill="#393982" stroke="#393982" text-anchor="start" transform="rotate(-90 252 348.5)">8</text>
<text x="258" y="348.5" font-size="4.77" fill="#393982" stroke="#393982" text-anchor="start" transform="rotate(-90 258 348.5)">6</text>
<polyline points="235.6,359.75 216.25,359.75 216.25,385" fill="none" stroke="#6d699b" stroke-width="1.2"/>
<text x="216.5" y="358.8" font-size="4.88" fill="#393982" stroke="#393982" text-anchor="start">110V</text>
<text x="267" y="358.8" font-size="4.88" fill="#393982" stroke="#393982" text-anchor="start">145V</text>
<line x1="211.9" y1="367.9" x2="220.6" y2="367.9" stroke="#6a68bc" stroke-width="1.2"/>
<line x1="211.9" y1="370.6" x2="220.6" y2="370.6" stroke="#6a68bc" stroke-width="1.2"/>
<text x="219.5" y="366" font-size="4.77" fill="#393982" stroke="#393982" text-anchor="middle">+</text>
<text x="222" y="368" font-size="5.51" fill="#393982" stroke="#393982" text-anchor="start">C102</text>
<text x="222" y="374.5" font-size="5.51" fill="#393982" stroke="#393982" text-anchor="start">150uF</text>
<rect x="233.4" y="366.25" width="5" height="12.25" rx="1" fill="#fdfdfa" stroke="#6a68bc" stroke-width="1.2"/>
<text x="238.5" y="371" font-size="5.51" fill="#393982" stroke="#393982" text-anchor="start">R102</text>
<text x="238.5" y="377.5" font-size="5.51" fill="#393982" stroke="#393982" text-anchor="start">1.2K</text>
<rect x="258" y="366.25" width="5" height="12.25" rx="1" fill="#fdfdfa" stroke="#6a68bc" stroke-width="1.2"/>
<text x="263" y="371" font-size="5.51" fill="#393982" stroke="#393982" text-anchor="start">R104</text>
<text x="263" y="377.5" font-size="5.51" fill="#393982" stroke="#393982" text-anchor="start">1.2K</text>
<line x1="274.5" y1="367.6" x2="284.5" y2="367.6" stroke="#6a68bc" stroke-width="1.2"/>
<line x1="274.5" y1="370.2" x2="284.5" y2="370.2" stroke="#6a68bc" stroke-width="1.2"/>
<text x="283" y="365.5" font-size="4.77" fill="#393982" stroke="#393982" text-anchor="middle">+</text>
<text x="286" y="368" font-size="5.51" fill="#393982" stroke="#393982" text-anchor="start">C104</text>
<text x="286" y="374.5" font-size="5.51" fill="#393982" stroke="#393982" text-anchor="start">150uF</text>
<polyline points="216.25,385 216.25,391.5" fill="none" stroke="#b08878" stroke-width="1"/>
<line x1="210.05" y1="391.5" x2="222.45" y2="391.5" stroke="#b08878" stroke-width="0.85"/>
<line x1="211.45" y1="393.1" x2="221.05" y2="393.1" stroke="#b08878" stroke-width="0.85"/>
<line x1="212.85" y1="394.7" x2="219.65" y2="394.7" stroke="#b08878" stroke-width="0.85"/>
<line x1="214.25" y1="396.3" x2="218.25" y2="396.3" stroke="#b08878" stroke-width="0.85"/>
<line x1="215.55" y1="397.9" x2="216.95" y2="397.9" stroke="#b08878" stroke-width="0.85"/>
<polyline points="242.5,337 242.5,409.3" fill="none" stroke="#6d699b" stroke-width="1.2"/>
<polyline points="298.5,264.75 298.5,277.5 305,277.5 305,284" fill="none" stroke="#6d699b" stroke-width="1.2"/>
<path d="M305,284 A3.12,3.12 0 0 1 305,290.25 A3.12,3.12 0 0 1 305,296.5 A3.12,3.12 0 0 1 305,302.75 A3.12,3.12 0 0 1 305,309" fill="none" stroke="#6a68bc" stroke-width="1"/>
<line x1="310.3" y1="277.5" x2="310.3" y2="359.4" stroke="#8482c4" stroke-width="0.95"/>
<line x1="312.7" y1="277.5" x2="312.7" y2="359.4" stroke="#8482c4" stroke-width="0.95"/>
<polyline points="336.9,277.5 318,277.5 318,284" fill="none" stroke="#6d699b" stroke-width="1.2"/>
<path d="M318,284 A3.12,3.12 0 0 0 318,290.25 A3.12,3.12 0 0 0 318,296.5 A3.12,3.12 0 0 0 318,302.75 A3.12,3.12 0 0 0 318,309" fill="none" stroke="#6a68bc" stroke-width="1"/>
<polyline points="318,309 318,315.4 336.4,315.4" fill="none" stroke="#6d699b" stroke-width="1.2"/>
<polyline points="324,315.4 324,321.8 317.5,321.8 317.5,328" fill="none" stroke="#6d699b" stroke-width="1.2"/>
<path d="M317.5,328 A3.19,3.19 0 0 0 317.5,334.38 A3.19,3.19 0 0 0 317.5,340.75 A3.19,3.19 0 0 0 317.5,347.12 A3.19,3.19 0 0 0 317.5,353.5" fill="none" stroke="#6a68bc" stroke-width="1"/>
<polyline points="317.5,353.5 317.5,359.75 323.75,359.75 323.75,362" fill="none" stroke="#6d699b" stroke-width="1.2"/>
<polyline points="323.75,359.75 323.75,366.3" fill="none" stroke="#b08878" stroke-width="1"/>
<line x1="317.55" y1="366.3" x2="329.95" y2="366.3" stroke="#b08878" stroke-width="0.85"/>
<line x1="318.95" y1="367.9" x2="328.55" y2="367.9" stroke="#b08878" stroke-width="0.85"/>
<line x1="320.35" y1="369.5" x2="327.15" y2="369.5" stroke="#b08878" stroke-width="0.85"/>
<line x1="321.75" y1="371.1" x2="325.75" y2="371.1" stroke="#b08878" stroke-width="0.85"/>
<line x1="323.05" y1="372.7" x2="324.45" y2="372.7" stroke="#b08878" stroke-width="0.85"/>
<circle cx="306.9" cy="282.3" r="1.2" fill="#2020e8"/>
<circle cx="315" cy="282.3" r="1.2" fill="#2020e8"/>
<circle cx="315" cy="326.3" r="1.2" fill="#2020e8"/>
<text x="304.4" y="274.4" font-size="5.51" fill="#393982" stroke="#393982" text-anchor="start">T3</text>
<text x="324" y="276.5" font-size="4.45" fill="#393982" stroke="#393982" text-anchor="start">600Ω</text>
<text x="324" y="314.3" font-size="4.45" fill="#393982" stroke="#393982" text-anchor="start">150Ω</text>
<path d="M337.4,312.1 L352.4,312.1 L355.4,315.6 L352.4,319.1 L337.4,319.1 Q336.4,319.1 336.4,315.6 Q336.4,312.1 337.4,312.1 Z" fill="#f8ee6c" stroke="#c09a50" stroke-width="0.9"/>
<text x="352.9" y="317.3" font-size="4.77" fill="#a08848" stroke="#a08848" text-anchor="end">150Ω</text>
<text x="471.2" y="188" font-size="5.09" fill="#9a4434" stroke="#9a4434" text-anchor="start">DH2</text>
<polyline points="472.8,190 477.7,190" fill="none" stroke="#9a4434" stroke-width="1"/>
<polyline points="475.25,190 475.25,195.5" fill="none" stroke="#9a4434" stroke-width="1"/>
<polyline points="475.25,195.5 538.1,195.5 538.1,270.8 475.3,270.8 475.3,195.5" fill="none" stroke="#6d699b" stroke-width="1.2"/>
<line x1="470.6" y1="210.6" x2="480" y2="210.6" stroke="#6a68bc" stroke-width="1.2"/>
<line x1="470.6" y1="212.6" x2="480" y2="212.6" stroke="#6a68bc" stroke-width="1.2"/>
<text x="478.7" y="208" font-size="4.77" fill="#393982" stroke="#393982" text-anchor="middle">+</text>
<text x="481" y="211" font-size="5.51" fill="#393982" stroke="#393982" text-anchor="start">C4</text>
<text x="481.5" y="216.5" font-size="5.09" fill="#393982" stroke="#393982" text-anchor="start">10000/16V</text>
<polyline points="513.1,195.5 513.1,270.8" fill="none" stroke="#6d699b" stroke-width="1.2"/>
<polygon points="513.1,208.5 506.9,214.8 519.3,214.8" fill="#1e1ef0"/>
<line x1="506.9" y1="208.5" x2="519.3" y2="208.5" stroke="#1e1ef0" stroke-width="1.1"/>
<polygon points="538.1,208.5 531.9,214.8 544.3,214.8" fill="#1e1ef0"/>
<line x1="531.9" y1="208.5" x2="544.3" y2="208.5" stroke="#1e1ef0" stroke-width="1.1"/>
<polygon points="513.1,252 506.9,259.2 519.3,259.2" fill="#1e1ef0"/>
<line x1="506.9" y1="252" x2="519.3" y2="252" stroke="#1e1ef0" stroke-width="1.1"/>
<polygon points="538.1,252 531.9,259.2 544.3,259.2" fill="#1e1ef0"/>
<line x1="531.9" y1="252" x2="544.3" y2="252" stroke="#1e1ef0" stroke-width="1.1"/>
<text x="520" y="213" font-size="5.51" fill="#393982" stroke="#393982" text-anchor="start">D4</text>
<text x="545" y="213" font-size="5.51" fill="#393982" stroke="#393982" text-anchor="start">D3</text>
<text x="520" y="257" font-size="5.51" fill="#393982" stroke="#393982" text-anchor="start">D6</text>
<text x="545" y="257" font-size="5.51" fill="#393982" stroke="#393982" text-anchor="start">D5</text>
<polyline points="475.3,270.8 475.3,277.5" fill="none" stroke="#b08878" stroke-width="1"/>
<line x1="469.1" y1="277.5" x2="481.5" y2="277.5" stroke="#b08878" stroke-width="0.85"/>
<line x1="470.5" y1="279.1" x2="480.1" y2="279.1" stroke="#b08878" stroke-width="0.85"/>
<line x1="471.9" y1="280.7" x2="478.7" y2="280.7" stroke="#b08878" stroke-width="0.85"/>
<line x1="473.3" y1="282.3" x2="477.3" y2="282.3" stroke="#b08878" stroke-width="0.85"/>
<line x1="474.6" y1="283.9" x2="476" y2="283.9" stroke="#b08878" stroke-width="0.85"/>
<line x1="185" y1="25.6" x2="191" y2="25.6" stroke="#94938a" stroke-width="1.2"/>
<line x1="203.75" y1="25.6" x2="209.75" y2="25.6" stroke="#94938a" stroke-width="1.2"/>
<line x1="248" y1="25.6" x2="254" y2="25.6" stroke="#94938a" stroke-width="1.2"/>
<line x1="267.25" y1="25.6" x2="273.25" y2="25.6" stroke="#94938a" stroke-width="1.2"/>
<line x1="362" y1="25.6" x2="368" y2="25.6" stroke="#94938a" stroke-width="1.2"/>
<line x1="381" y1="25.6" x2="387" y2="25.6" stroke="#94938a" stroke-width="1.2"/>
<line x1="412.5" y1="25.6" x2="418.1" y2="25.6" stroke="#94938a" stroke-width="1.2"/>
<line x1="444.4" y1="25.6" x2="450" y2="25.6" stroke="#94938a" stroke-width="1.2"/>
<line x1="476" y1="25.6" x2="482" y2="25.6" stroke="#94938a" stroke-width="1.2"/>
<line x1="488.6" y1="25.6" x2="499" y2="25.6" stroke="#94938a" stroke-width="1.2"/>
<line x1="222.75" y1="28.5" x2="222.75" y2="33.5" stroke="#94938a" stroke-width="1.2"/>
<line x1="222.75" y1="36.3" x2="222.75" y2="41.3" stroke="#94938a" stroke-width="1.2"/>
<line x1="241.6" y1="25.25" x2="241.6" y2="31.25" stroke="#94938a" stroke-width="1.2"/>
<line x1="241.6" y1="44.4" x2="241.6" y2="50.4" stroke="#94938a" stroke-width="1.2"/>
<line x1="188" y1="82.5" x2="193" y2="82.5" stroke="#94938a" stroke-width="1.2"/>
<line x1="195.6" y1="82.5" x2="200.6" y2="82.5" stroke="#94938a" stroke-width="1.2"/>
<line x1="204" y1="82.75" x2="204" y2="88.75" stroke="#94938a" stroke-width="1.2"/>
<line x1="204" y1="100.6" x2="204" y2="106.6" stroke="#94938a" stroke-width="1.2"/>
<line x1="235.6" y1="97" x2="235.6" y2="113" stroke="#94938a" stroke-width="1.2"/>
<line x1="242.5" y1="97" x2="242.5" y2="113" stroke="#94938a" stroke-width="1.2"/>
<line x1="254.4" y1="97" x2="254.4" y2="113" stroke="#94938a" stroke-width="1.2"/>
<line x1="260.9" y1="97" x2="260.9" y2="113" stroke="#94938a" stroke-width="1.2"/>
<line x1="216.25" y1="122.9" x2="216.25" y2="127.9" stroke="#94938a" stroke-width="1.2"/>
<line x1="216.25" y1="130.6" x2="216.25" y2="135.6" stroke="#94938a" stroke-width="1.2"/>
<line x1="235.9" y1="120.25" x2="235.9" y2="126.25" stroke="#94938a" stroke-width="1.2"/>
<line x1="235.9" y1="138.5" x2="235.9" y2="144.5" stroke="#94938a" stroke-width="1.2"/>
<line x1="260.5" y1="120.25" x2="260.5" y2="126.25" stroke="#94938a" stroke-width="1.2"/>
<line x1="260.5" y1="138.5" x2="260.5" y2="144.5" stroke="#94938a" stroke-width="1.2"/>
<line x1="279.75" y1="122.5" x2="279.75" y2="127.5" stroke="#94938a" stroke-width="1.2"/>
<line x1="279.75" y1="130.2" x2="279.75" y2="135.2" stroke="#94938a" stroke-width="1.2"/>
<line x1="355.5" y1="28.2" x2="355.5" y2="33.2" stroke="#94938a" stroke-width="1.2"/>
<line x1="355.5" y1="36.3" x2="355.5" y2="41.3" stroke="#94938a" stroke-width="1.2"/>
<line x1="411.9" y1="28.2" x2="411.9" y2="33.2" stroke="#94938a" stroke-width="1.2"/>
<line x1="411.9" y1="36.3" x2="411.9" y2="41.3" stroke="#94938a" stroke-width="1.2"/>
<line x1="450.1" y1="28.2" x2="450.1" y2="33.2" stroke="#94938a" stroke-width="1.2"/>
<line x1="450.1" y1="36.3" x2="450.1" y2="41.3" stroke="#94938a" stroke-width="1.2"/>
<line x1="361.8" y1="208.4" x2="361.8" y2="214.4" stroke="#94938a" stroke-width="1.2"/>
<line x1="361.8" y1="226.9" x2="361.8" y2="232.9" stroke="#94938a" stroke-width="1.2"/>
<line x1="475.5" y1="107.25" x2="481.6" y2="107.25" stroke="#94938a" stroke-width="1.2"/>
<line x1="488.6" y1="107.25" x2="498" y2="107.25" stroke="#94938a" stroke-width="1.2"/>
<line x1="456.1" y1="114" x2="456.1" y2="120" stroke="#94938a" stroke-width="1.2"/>
<line x1="456.1" y1="132.2" x2="456.1" y2="138.2" stroke="#94938a" stroke-width="1.2"/>
<line x1="456.1" y1="139" x2="456.1" y2="145" stroke="#94938a" stroke-width="1.2"/>
<line x1="456.1" y1="157.5" x2="456.1" y2="163.5" stroke="#94938a" stroke-width="1.2"/>
<line x1="52.5" y1="114.5" x2="52.5" y2="121" stroke="#94938a" stroke-width="1.2"/>
<line x1="52.5" y1="130.6" x2="52.5" y2="137.5" stroke="#94938a" stroke-width="1.2"/>
<line x1="58" y1="126.25" x2="65" y2="126.25" stroke="#94938a" stroke-width="1.2"/>
<line x1="81.25" y1="126.25" x2="86.25" y2="126.25" stroke="#94938a" stroke-width="1.2"/>
<line x1="88.75" y1="126.25" x2="93.75" y2="126.25" stroke="#94938a" stroke-width="1.2"/>
<line x1="52.5" y1="153" x2="52.5" y2="160" stroke="#94938a" stroke-width="1.2"/>
<line x1="52.5" y1="168.5" x2="52.5" y2="175" stroke="#94938a" stroke-width="1.2"/>
<line x1="58" y1="164.4" x2="65" y2="164.4" stroke="#94938a" stroke-width="1.2"/>
<line x1="81.25" y1="164" x2="86.25" y2="164" stroke="#94938a" stroke-width="1.2"/>
<line x1="88.75" y1="164" x2="93.75" y2="164" stroke="#94938a" stroke-width="1.2"/>
<line x1="102.8" y1="170.9" x2="102.8" y2="176.9" stroke="#94938a" stroke-width="1.2"/>
<line x1="102.8" y1="188.8" x2="102.8" y2="194.8" stroke="#94938a" stroke-width="1.2"/>
<line x1="166" y1="170.9" x2="166" y2="176.9" stroke="#94938a" stroke-width="1.2"/>
<line x1="166" y1="189" x2="166" y2="195" stroke="#94938a" stroke-width="1.2"/>
<line x1="121.6" y1="221.25" x2="121.6" y2="227.25" stroke="#94938a" stroke-width="1.2"/>
<line x1="121.6" y1="240" x2="121.6" y2="246" stroke="#94938a" stroke-width="1.2"/>
<line x1="147.3" y1="221.25" x2="147.3" y2="227.25" stroke="#94938a" stroke-width="1.2"/>
<line x1="147.3" y1="240" x2="147.3" y2="246" stroke="#94938a" stroke-width="1.2"/>
<line x1="121.9" y1="179" x2="121.9" y2="196" stroke="#94938a" stroke-width="1.2"/>
<line x1="128.5" y1="181" x2="128.5" y2="196" stroke="#94938a" stroke-width="1.2"/>
<line x1="134.75" y1="181" x2="134.75" y2="196" stroke="#94938a" stroke-width="1.2"/>
<line x1="141" y1="181" x2="141" y2="196" stroke="#94938a" stroke-width="1.2"/>
<line x1="147.25" y1="179" x2="147.25" y2="196" stroke="#94938a" stroke-width="1.2"/>
<line x1="204.25" y1="202.3" x2="210.25" y2="202.3" stroke="#94938a" stroke-width="1.2"/>
<line x1="222.75" y1="202.3" x2="228.75" y2="202.3" stroke="#94938a" stroke-width="1.2"/>
<line x1="207.5" y1="183.12" x2="212.5" y2="183.12" stroke="#94938a" stroke-width="1.2"/>
<line x1="215" y1="183.12" x2="220" y2="183.12" stroke="#94938a" stroke-width="1.2"/>
<line x1="245" y1="201.9" x2="250" y2="201.9" stroke="#94938a" stroke-width="1.2"/>
<line x1="252.5" y1="201.9" x2="257.5" y2="201.9" stroke="#94938a" stroke-width="1.2"/>
<line x1="207.5" y1="220.93" x2="212.5" y2="220.93" stroke="#94938a" stroke-width="1.2"/>
<line x1="215" y1="220.93" x2="220" y2="220.93" stroke="#94938a" stroke-width="1.2"/>
<line x1="204.25" y1="240.1" x2="210.25" y2="240.1" stroke="#94938a" stroke-width="1.2"/>
<line x1="222.75" y1="240.1" x2="228.75" y2="240.1" stroke="#94938a" stroke-width="1.2"/>
<line x1="245" y1="240" x2="250" y2="240" stroke="#94938a" stroke-width="1.2"/>
<line x1="252.5" y1="240" x2="257.5" y2="240" stroke="#94938a" stroke-width="1.2"/>
<line x1="185" y1="265" x2="191" y2="265" stroke="#94938a" stroke-width="1.2"/>
<line x1="203.75" y1="265" x2="209.75" y2="265" stroke="#94938a" stroke-width="1.2"/>
<line x1="235.9" y1="265" x2="241.9" y2="265" stroke="#94938a" stroke-width="1.2"/>
<line x1="254.4" y1="265" x2="260.4" y2="265" stroke="#94938a" stroke-width="1.2"/>
<line x1="210" y1="268.5" x2="210" y2="273.5" stroke="#94938a" stroke-width="1.2"/>
<line x1="210" y1="276.3" x2="210" y2="281.3" stroke="#94938a" stroke-width="1.2"/>
<line x1="229" y1="265.5" x2="229" y2="271.5" stroke="#94938a" stroke-width="1.2"/>
<line x1="229" y1="283.75" x2="229" y2="289.75" stroke="#94938a" stroke-width="1.2"/>
<line x1="361.55" y1="268.5" x2="361.55" y2="273.5" stroke="#94938a" stroke-width="1.2"/>
<line x1="361.55" y1="275.8" x2="361.55" y2="280.8" stroke="#94938a" stroke-width="1.2"/>
<line x1="187.5" y1="321.75" x2="192.5" y2="321.75" stroke="#94938a" stroke-width="1.2"/>
<line x1="195.6" y1="321.75" x2="200.6" y2="321.75" stroke="#94938a" stroke-width="1.2"/>
<line x1="203.75" y1="322" x2="203.75" y2="328" stroke="#94938a" stroke-width="1.2"/>
<line x1="203.75" y1="340" x2="203.75" y2="346" stroke="#94938a" stroke-width="1.2"/>
<line x1="235.6" y1="337" x2="235.6" y2="353" stroke="#94938a" stroke-width="1.2"/>
<line x1="242.5" y1="337" x2="242.5" y2="353" stroke="#94938a" stroke-width="1.2"/>
<line x1="254.4" y1="337" x2="254.4" y2="353" stroke="#94938a" stroke-width="1.2"/>
<line x1="260.9" y1="337" x2="260.9" y2="353" stroke="#94938a" stroke-width="1.2"/>
<line x1="216.25" y1="362.9" x2="216.25" y2="367.9" stroke="#94938a" stroke-width="1.2"/>
<line x1="216.25" y1="370.6" x2="216.25" y2="375.6" stroke="#94938a" stroke-width="1.2"/>
<line x1="235.9" y1="360.25" x2="235.9" y2="366.25" stroke="#94938a" stroke-width="1.2"/>
<line x1="235.9" y1="378.5" x2="235.9" y2="384.5" stroke="#94938a" stroke-width="1.2"/>
<line x1="260.5" y1="360.25" x2="260.5" y2="366.25" stroke="#94938a" stroke-width="1.2"/>
<line x1="260.5" y1="378.5" x2="260.5" y2="384.5" stroke="#94938a" stroke-width="1.2"/>
<line x1="279.5" y1="362.6" x2="279.5" y2="367.6" stroke="#94938a" stroke-width="1.2"/>
<line x1="279.5" y1="370.2" x2="279.5" y2="375.2" stroke="#94938a" stroke-width="1.2"/>
<line x1="475.3" y1="205.6" x2="475.3" y2="210.6" stroke="#94938a" stroke-width="1.2"/>
<line x1="475.3" y1="212.6" x2="475.3" y2="217.6" stroke="#94938a" stroke-width="1.2"/>
<circle cx="223" cy="25.6" r="1.6" fill="#1c1c66"/>
<circle cx="241.6" cy="25.6" r="1.6" fill="#1c1c66"/>
<circle cx="298.3" cy="25.6" r="1.6" fill="#1c1c66"/>
<circle cx="355.6" cy="25.6" r="1.6" fill="#1c1c66"/>
<circle cx="399.8" cy="25.6" r="1.6" fill="#1c1c66"/>
<circle cx="412.25" cy="25.6" r="1.6" fill="#1c1c66"/>
<circle cx="450.25" cy="25.6" r="1.6" fill="#1c1c66"/>
<circle cx="469" cy="25.6" r="1.6" fill="#1c1c66"/>
<circle cx="223" cy="50.5" r="1.6" fill="#1c1c66"/>
<circle cx="254.4" cy="57.1" r="1.6" fill="#1c1c66"/>
<circle cx="204" cy="82.25" r="1.6" fill="#1c1c66"/>
<circle cx="222.75" cy="82.25" r="1.6" fill="#1c1c66"/>
<circle cx="235.6" cy="119.75" r="1.6" fill="#1c1c66"/>
<circle cx="260.9" cy="119.75" r="1.6" fill="#1c1c66"/>
<circle cx="216.25" cy="145.25" r="1.6" fill="#1c1c66"/>
<circle cx="235.6" cy="145.25" r="1.6" fill="#1c1c66"/>
<circle cx="260.9" cy="145.25" r="1.6" fill="#1c1c66"/>
<circle cx="323.7" cy="75.7" r="1.6" fill="#1c1c66"/>
<circle cx="330.3" cy="37.75" r="1.6" fill="#1c1c66"/>
<circle cx="386.9" cy="63.3" r="1.6" fill="#1c1c66"/>
<circle cx="412.25" cy="63.3" r="1.6" fill="#1c1c66"/>
<circle cx="450.25" cy="63.3" r="1.6" fill="#1c1c66"/>
<circle cx="513.1" cy="63.3" r="1.6" fill="#1c1c66"/>
<circle cx="456.25" cy="113.75" r="1.6" fill="#1c1c66"/>
<circle cx="456.25" cy="139" r="1.6" fill="#1c1c66"/>
<circle cx="456.25" cy="164.2" r="1.6" fill="#1c1c66"/>
<circle cx="393.5" cy="113.75" r="1.6" fill="#1c1c66"/>
<circle cx="412" cy="164.2" r="1.6" fill="#1c1c66"/>
<circle cx="102.9" cy="164.4" r="1.6" fill="#1c1c66"/>
<circle cx="52.25" cy="246.25" r="1.6" fill="#1c1c66"/>
<circle cx="71.25" cy="252.6" r="1.6" fill="#1c1c66"/>
<circle cx="102.9" cy="246.25" r="1.6" fill="#1c1c66"/>
<circle cx="166" cy="164.3" r="1.6" fill="#1c1c66"/>
<circle cx="128" cy="107.4" r="1.6" fill="#1c1c66"/>
<circle cx="146.9" cy="246" r="1.6" fill="#1c1c66"/>
<circle cx="121.9" cy="202.1" r="1.6" fill="#1c1c66"/>
<circle cx="147.25" cy="214.4" r="1.6" fill="#1c1c66"/>
<circle cx="128.5" cy="271" r="1.6" fill="#1c1c66"/>
<circle cx="204" cy="202.1" r="1.6" fill="#1c1c66"/>
<circle cx="229.4" cy="202.1" r="1.6" fill="#1c1c66"/>
<circle cx="204" cy="221" r="1.6" fill="#1c1c66"/>
<circle cx="229.4" cy="240" r="1.6" fill="#1c1c66"/>
<circle cx="185.25" cy="265" r="1.6" fill="#1c1c66"/>
<circle cx="210" cy="265" r="1.6" fill="#1c1c66"/>
<circle cx="229.1" cy="265" r="1.6" fill="#1c1c66"/>
<circle cx="210" cy="290.25" r="1.6" fill="#1c1c66"/>
<circle cx="298.5" cy="264.75" r="1.6" fill="#1c1c66"/>
<circle cx="361.5" cy="264.75" r="1.6" fill="#1c1c66"/>
<circle cx="254.4" cy="296.9" r="1.6" fill="#1c1c66"/>
<circle cx="203.75" cy="321.5" r="1.6" fill="#1c1c66"/>
<circle cx="222.75" cy="321.5" r="1.6" fill="#1c1c66"/>
<circle cx="235.6" cy="359.75" r="1.6" fill="#1c1c66"/>
<circle cx="260.9" cy="359.75" r="1.6" fill="#1c1c66"/>
<circle cx="216.25" cy="385" r="1.6" fill="#1c1c66"/>
<circle cx="235.6" cy="385" r="1.6" fill="#1c1c66"/>
<circle cx="260.9" cy="385" r="1.6" fill="#1c1c66"/>
<circle cx="324" cy="315.4" r="1.6" fill="#1c1c66"/>
<circle cx="323.6" cy="277.5" r="1.6" fill="#1c1c66"/>
<circle cx="475.25" cy="195.5" r="1.6" fill="#1c1c66"/>
<circle cx="513.1" cy="195.5" r="1.6" fill="#1c1c66"/>
<circle cx="538.1" cy="227.1" r="1.6" fill="#1c1c66"/>
<circle cx="513.1" cy="233.5" r="1.6" fill="#1c1c66"/>
<circle cx="513" cy="270.8" r="1.6" fill="#1c1c66"/>
<circle cx="475.3" cy="270.8" r="1.6" fill="#1c1c66"/>
<path d="M10,6.3 H39.3 V19 Q39.3,20.5 37.8,20.5 H11.5 Q10,20.5 10,19 Z" fill="url(#bd)"/>
<text x="12.1" y="16.2" font-size="7.6" font-weight="bold" fill="#d8d8d6" stroke="none">1:1</text>
<path d="M28.6,10 A4.6,4.6 0 0 0 26.8,17" fill="none" stroke="#c8c8c6" stroke-width="0.9"/>
<rect x="28.3" y="12.9" width="5.4" height="4.2" rx="0.8" fill="#3c3c3a" stroke="#cfcfcd" stroke-width="1"/>
<circle cx="30.4" cy="10.1" r="1" fill="#eee"/>
</svg>
</body></html>
